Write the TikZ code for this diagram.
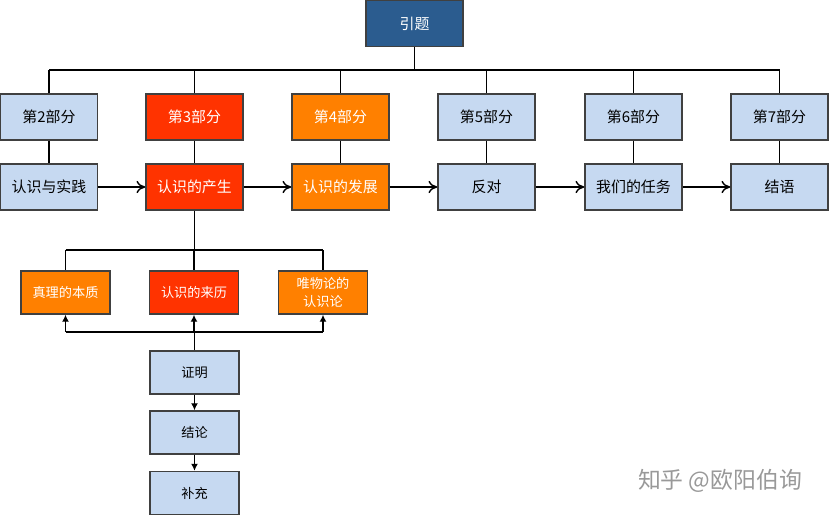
\documentclass[tikz,border=0pt]{standalone}
\usepackage{fontspec}
\setmainfont{Noto Sans CJK SC}
\usetikzlibrary{arrows.meta}
\definecolor{boxblue}{HTML}{C6D9F1}
\definecolor{boxred}{HTML}{FF3300}
\definecolor{boxorange}{HTML}{FF8000}
\definecolor{topblue}{HTML}{2B5C8F}
\tikzset{ b/.style = { rectangle % box
        , draw = black!75
        , thick
        , minimum width = 1.94cm
        , minimum height = 0.92cm
        , inner sep = 1pt
        , align = center
        , font = \fontsize{8.5}{10}\selectfont
        }
        , lb/.style = { b, fill = boxblue }
        , rb/.style = { b, fill = boxred, text = white }
        , ob/.style = { b, fill = boxorange, text = white }
        , sb/.style = { minimum width = 1.78cm, minimum height = 0.86cm, font = \fontsize{7.5}{10}\selectfont }
        }
\begin{document}
\begin{tikzpicture}[x=0.02cm, y=-0.02cm, thick,
        edge_style/.style={draw=black},
        arrow_style/.style={draw=black, -{To[length=5pt,width=7pt]}},
        small_arrow_style/.style={draw=black, -{Latex[length=4pt,width=4pt]}}]
        \useasboundingbox (0,0) rectangle (830,514);

        \node [b, fill=topblue, text=white] (t) at (414.5,23.5) {引题};

        \node [lb] (p2) at (49,117) {第2部分};
        \node [rb] (p3) at (194.5,117) {第3部分};
        \node [ob] (p4) at (340.5,117) {第4部分};
        \node [lb] (p5) at (486.5,117) {第5部分};
        \node [lb] (p6) at (633.5,117) {第6部分};
        \node [lb] (p7) at (779.5,117) {第7部分};

        \node [lb] (c2) at (49,187) {认识与实践};
        \node [rb] (c3) at (194.5,187) {认识的产生};
        \node [ob] (c4) at (340.5,187) {认识的发展};
        \node [lb] (c5) at (486.5,187) {反对};
        \node [lb] (c6) at (633.5,187) {我们的任务};
        \node [lb] (c7) at (779.5,187) {结语};

        \node [ob, sb] (s1) at (65.5,292.5) {真理的本质};
        \node [rb, sb] (s2) at (194,292.5) {认识的来历};
        \node [ob, sb] (s3) at (323,292.5) {唯物论的\\认识论};

        \node [lb, sb] (z1) at (194.5,372.5) {证明};
        \node [lb, sb] (z2) at (194.5,432.5) {结论};
        \node [lb, sb] (z3) at (194.5,493) {补充};

        \node [text=black!40, font=\fontsize{13}{15}\selectfont] (w) at (720,481) {知乎 @欧阳伯询};

        % top tree
        \coordinate (j) at (414.5,70);
        \draw [edge_style] (t) -- (j);
        \foreach \p in {p2,p3,p4,p5,p6,p7}
            \draw [edge_style] (\p.north) -- (\p.north |- j);
        \draw [edge_style] (p2.north |- j) -- (p7.north |- j);
        \foreach \i in {2,...,7}
            \draw [edge_style] (p\i) -- (c\i);
        \foreach \i/\k in {2/3,3/4,4/5,5/6,6/7}
            \draw [arrow_style] (c\i) -- (c\k);

        % sub tree
        \coordinate (u) at (194.5,250);
        \draw [edge_style] (c3) -- (u);
        \draw [edge_style] (s1.north |- u) -- (s3.north |- u);
        \foreach \s in {s1,s2,s3}
            \draw [edge_style] (\s.north |- u) -- (\s.north);

        \coordinate (v) at (194.5,332);
        \draw [edge_style] (z1) -- (v);
        \draw [edge_style] (s1.south |- v) -- (s3.south |- v);
        \foreach \s in {s1,s2,s3}
            \draw [small_arrow_style] (\s.south |- v) -- (\s.south);
        \draw [small_arrow_style] (z1) -- (z2);
        \draw [small_arrow_style] (z2) -- (z3);
\end{tikzpicture}
\end{document}
